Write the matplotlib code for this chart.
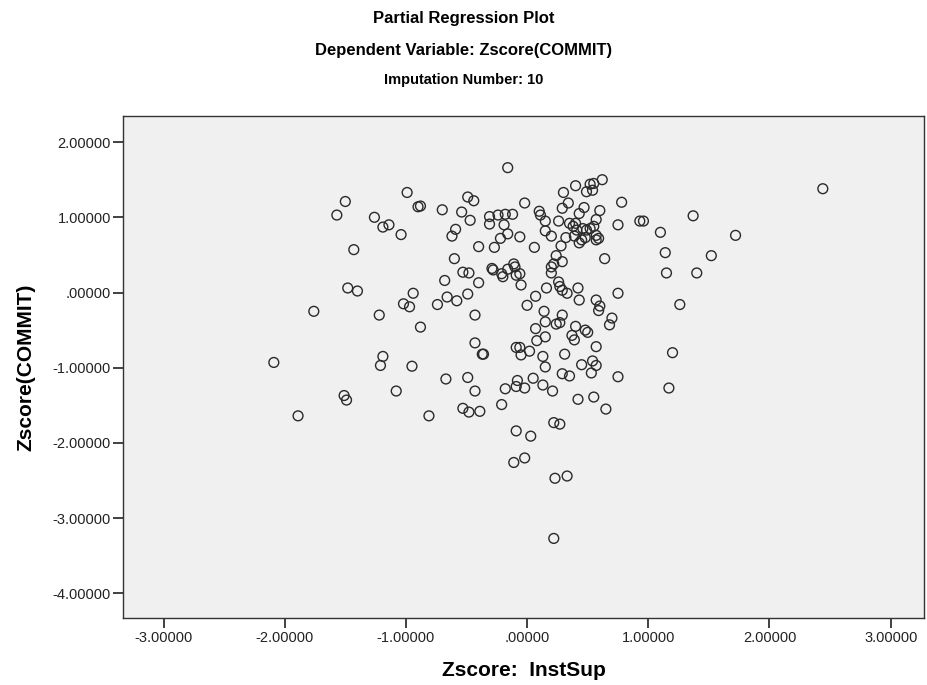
import matplotlib
matplotlib.use("Agg")
import matplotlib.pyplot as plt
from matplotlib.ticker import FuncFormatter

# values
inst_sup = [
    -1.50, -1.57, -0.99, -0.90, -0.88, -1.26, -1.19, -1.14, -1.04, -1.43,
    -1.48, -1.40, -0.94, -1.76, -1.22, -1.02, -0.97, -0.74, -0.88, -2.09,
    -1.19, -1.21, -0.95, -1.51, -1.49, -1.08, -1.89, -0.81,
    -0.70, -0.16, -0.49, -0.44, -0.54, -0.47, -0.59, -0.62, -0.31, -0.24,
    -0.18, -0.12, -0.31, -0.19, -0.16, -0.22, -0.06, -0.02, -0.40, -0.27,
    0.06, -0.60, -0.53, -0.48, -0.68, -0.40, -0.29, -0.28, -0.21, -0.20,
    -0.16, -0.11, -0.10, -0.09, -0.06, -0.05, -0.49, 0.16, 0.26, 0.27,
    0.29, 0.33, 0.42, 0.75, 0.10, 0.11, 0.15, 0.15, 0.20, 0.26,
    0.30, 0.34, 0.29, 0.40, 0.49, 0.52, 0.55, 0.54, 0.62, 0.47,
    0.43, 0.60, 0.57, 0.78, 0.75, 0.35, 0.38, 0.40, 0.41, 0.46,
    0.49, 0.52, 0.55, 0.39, 0.43, 0.45, 0.48, 0.57, 0.59, 0.57,
    0.32, 0.28, 0.24, 0.22, 0.20, 0.20, 0.29, 0.64,
    2.44, 1.37, 0.93, 0.96, 1.10, 1.72, 1.14, 1.52, 1.15, 1.40,
    1.26, 1.20, 1.17,
    -0.66, -0.58, -0.43, -0.43, -0.37, -0.36, -0.67, -0.49, -0.43, -0.53,
    -0.48, -0.39, -0.21, -0.18, -0.09, -0.08, -0.02, -0.09, 0.03, 0.05,
    0.13, 0.21, 0.22, 0.27, -0.09, -0.06, -0.05, 0.02, 0.13, 0.15,
    0.08, 0.15, 0.07, 0.15, 0.14, 0.07, 0.00, 0.43, 0.24, 0.27,
    0.29, 0.40, 0.48, 0.50, 0.37, 0.39, 0.57, 0.60, 0.59, 0.70,
    0.68, 0.57, 0.31, 0.45, 0.54, 0.57, 0.53, 0.29, 0.35, 0.75,
    0.42, 0.55, 0.65,
    -0.11, -0.02, 0.23, 0.33, 0.22,
]
commit = [
    1.21, 1.03, 1.33, 1.14, 1.15, 1.00, 0.87, 0.90, 0.77, 0.57,
    0.06, 0.02, -0.01, -0.25, -0.30, -0.15, -0.19, -0.16, -0.46, -0.93,
    -0.85, -0.97, -0.98, -1.37, -1.43, -1.31, -1.64, -1.64,
    1.10, 1.66, 1.27, 1.22, 1.07, 0.96, 0.84, 0.75, 1.01, 1.03,
    1.04, 1.04, 0.91, 0.90, 0.78, 0.72, 0.74, 1.19, 0.61, 0.60,
    0.60, 0.45, 0.27, 0.26, 0.16, 0.13, 0.32, 0.30, 0.25, 0.21,
    0.31, 0.38, 0.34, 0.23, 0.25, 0.10, -0.02, 0.06, 0.14, 0.08,
    0.03, -0.01, 0.06, -0.01, 1.08, 1.03, 0.95, 0.82, 0.75, 0.95,
    1.33, 1.19, 1.12, 1.42, 1.34, 1.44, 1.45, 1.36, 1.50, 1.13,
    1.05, 1.09, 0.97, 1.20, 0.90, 0.92, 0.88, 0.92, 0.83, 0.85,
    0.83, 0.85, 0.88, 0.75, 0.66, 0.70, 0.73, 0.76, 0.72, 0.70,
    0.73, 0.62, 0.49, 0.38, 0.34, 0.26, 0.41, 0.45,
    1.38, 1.02, 0.95, 0.95, 0.80, 0.76, 0.53, 0.49, 0.26, 0.26,
    -0.16, -0.80, -1.27,
    -0.06, -0.11, -0.30, -0.67, -0.82, -0.82, -1.15, -1.13, -1.31, -1.54,
    -1.59, -1.58, -1.49, -1.28, -1.25, -1.17, -1.27, -1.84, -1.91, -1.14,
    -1.23, -1.31, -1.73, -1.75, -0.73, -0.73, -0.83, -0.78, -0.85, -0.99,
    -0.64, -0.59, -0.48, -0.39, -0.25, -0.05, -0.17, -0.10, -0.42, -0.40,
    -0.30, -0.45, -0.50, -0.53, -0.57, -0.63, -0.10, -0.18, -0.24, -0.34,
    -0.43, -0.72, -0.82, -0.96, -0.91, -0.97, -1.07, -1.08, -1.11, -1.12,
    -1.42, -1.39, -1.55,
    -2.26, -2.20, -2.47, -2.44, -3.27,
]

x_ticks = [-3, -2, -1, 0, 1, 2, 3]
y_ticks = [2, 1, 0, -1, -2, -3, -4]


def spss_fmt(v, pos=None):
    # SPSS drops the leading zero: .00000
    s = "%.5f" % v
    if s.startswith("0."):
        s = s[1:]
    elif s.startswith("-0."):
        s = "." + s[3:]
    return s


plt.rcParams['font.family'] = ['Liberation Sans', 'DejaVu Sans']

W, H = 927, 685
fig = plt.figure(figsize=(W / 100, H / 100), dpi=100)
ax = fig.add_axes([123.3 / W, 1 - 618.3 / H, 800.7 / W, 502.3 / H])
ax.set_facecolor('#f0f0f0')

ax.scatter(inst_sup, commit, s=50, facecolors='none', edgecolors='#2a2a2a',
           linewidths=1.0)

ax.set_xlim(-3.332, 3.275)
ax.set_ylim(-4.332, 2.347)
ax.set_xticks(x_ticks)
ax.set_yticks(y_ticks)
ax.xaxis.set_major_formatter(FuncFormatter(spss_fmt))
ax.yaxis.set_major_formatter(FuncFormatter(spss_fmt))
ax.tick_params(direction='out', length=7, width=1.3, color='#333333',
               labelsize=10.5, labelcolor='#222222', pad=2)
ax.tick_params(top=False, right=False)
for sp in ax.spines.values():
    sp.set_color('#333333')
    sp.set_linewidth(1.0)

fig.text(0.5, 1 - 18 / H, 'Partial Regression Plot', ha='center', va='center',
         fontsize=12, fontweight='bold')
fig.text(0.5, 1 - 50 / H, 'Dependent Variable: Zscore(COMMIT)', ha='center',
         va='center', fontsize=12, fontweight='bold')
fig.text(0.5, 1 - 80 / H, 'Imputation Number: 10', ha='center', va='center',
         fontsize=10.5, fontweight='bold')

fig.text((123.3 + 924) / 2 / W, 1 - 671 / H, 'Zscore:  InstSup', ha='center',
         va='center', fontsize=15, fontweight='bold')
fig.text(26 / W, 1 - 367 / H, 'Zscore(COMMIT)', ha='center', va='center',
         rotation=90, fontsize=15, fontweight='bold')

fig.savefig('out.png', dpi=100)
